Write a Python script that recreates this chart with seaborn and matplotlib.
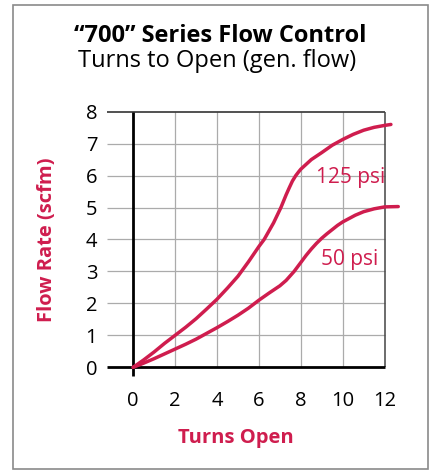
import matplotlib
matplotlib.use("Agg")
import matplotlib.pyplot as plt
from matplotlib.patches import Rectangle
import pandas as pd
import seaborn as sns

# Flow curves: turns open vs. flow rate (scfm)
turns_125 = [0, 0.5, 1, 1.5, 2, 2.5, 3, 3.5, 4, 4.5, 5, 5.5, 6, 6.25, 6.7, 7.05,
             7.3, 7.45, 7.6, 7.76, 7.9, 8.0, 8.5, 9.0, 9.5, 10.0, 10.5, 11.0,
             11.5, 12.0, 12.3]
flow_125 = [0, 0.23, 0.48, 0.75, 1.0, 1.25, 1.52, 1.82, 2.13, 2.48, 2.85, 3.3,
            3.78, 4.0, 4.52, 5.0, 5.4, 5.62, 5.83, 6.0, 6.12, 6.2, 6.5, 6.72,
            6.95, 7.13, 7.29, 7.42, 7.51, 7.57, 7.6]

turns_50 = [0, 0.5, 1, 1.5, 2, 2.5, 3, 3.5, 4, 4.5, 5, 5.5, 6, 6.5, 7.0, 7.3,
            7.68, 8.0, 8.25, 8.5, 8.75, 9.0, 9.25, 9.5, 9.75, 10.0, 10.6, 11.0,
            11.5, 12.0, 12.65]
flow_50 = [0, 0.13, 0.27, 0.42, 0.57, 0.72, 0.88, 1.06, 1.24, 1.43, 1.63, 1.85,
           2.1, 2.33, 2.55, 2.72, 3.0, 3.28, 3.5, 3.7, 3.88, 4.04, 4.18, 4.31,
           4.44, 4.55, 4.76, 4.87, 4.96, 5.02, 5.03]

series_names = ["125 psi", "50 psi"]
x_ticks = [0, 2, 4, 6, 8, 10, 12]
y_ticks = [0, 1, 2, 3, 4, 5, 6, 7, 8]

title = "\u201c700\u201d Series Flow Control"
subtitle = "Turns to Open (gen. flow)"
x_label = "Turns Open"
y_label = "Flow Rate (scfm)"

CRIMSON = "#CF1D4E"
GRID = "#ABABAB"

df = pd.concat([
    pd.DataFrame({"turns": turns_125, "flow": flow_125, "pressure": series_names[0]}),
    pd.DataFrame({"turns": turns_50, "flow": flow_50, "pressure": series_names[1]}),
])

sns.set_theme(style="white")
plt.rcParams["font.family"] = ["Open Sans", "DejaVu Sans"]

fig = plt.figure(figsize=(4.34, 4.74), dpi=100)
ax = fig.add_axes([0.2465, 0.2049, 0.6745, 0.5595])

xmin, xmax = -1.25, 12.72
ymin, ymax = -0.3, 8.0

# grid, drawn only over the 0..12 x 0..8 panel
ax.vlines(x_ticks[1:-1], 0, 8, color=GRID, lw=0.9, zorder=1)
ax.hlines(y_ticks[1:-1], xmin, 12, color=GRID, lw=0.9, zorder=1)
ax.hlines(8, xmin, 12, color="#222222", lw=1.1, zorder=2, clip_on=False)
ax.vlines(12, 0, 8, color="#444444", lw=1.1, zorder=2, clip_on=False)
# main axes lines
ax.hlines(0, xmin, 12, color="black", lw=2.0, zorder=3, clip_on=False)
ax.vlines(0, -0.27, 8, color="black", lw=2.0, zorder=3, clip_on=False)

sns.lineplot(data=df, x="turns", y="flow", hue="pressure", sort=False,
             palette=[CRIMSON, CRIMSON], legend=False, lw=2.5, ax=ax,
             zorder=4, clip_on=False, solid_capstyle="round")

ax.text(8.73, 5.78, series_names[0], color=CRIMSON, fontsize=15, va="baseline", ha="left", zorder=5)
ax.text(8.97, 3.2, series_names[1], color=CRIMSON, fontsize=15, va="baseline", ha="left", zorder=5)

ax.set_xlim(xmin, xmax)
ax.set_ylim(ymin, ymax)
ax.set_xticks(x_ticks)
ax.set_yticks(y_ticks)
ax.tick_params(axis="both", length=0, labelsize=14.5, colors="black")
ax.tick_params(axis="x", pad=10)
ax.tick_params(axis="y", pad=7)
for s in ax.spines.values():
    s.set_visible(False)
ax.grid(False)

ax.set_xlabel(x_label, color=CRIMSON, fontsize=14.5, fontweight="bold")
ax.set_ylabel(y_label, color=CRIMSON, fontsize=14.5, fontweight="bold")
ax.xaxis.label.set_va("center")
ax.yaxis.label.set_va("center")
ax.xaxis.set_label_coords(0.4407, -0.2304)
ax.yaxis.set_label_coords(-0.206, 0.516)

fig.text(0.507, 0.9124, title, ha="center", va="baseline", fontsize=17, fontweight="bold", color="black")
fig.text(0.5, 0.8593, subtitle, ha="center", va="baseline", fontsize=17, color="black")

# outer frame
fig.patches.append(Rectangle((12.7 / 434, 1 - 469.3 / 474), 415 / 434, 464.6 / 474,
                             transform=fig.transFigure, fill=False,
                             edgecolor="#8A8A8A", lw=1.2))

fig.savefig("out.png", dpi=100)
